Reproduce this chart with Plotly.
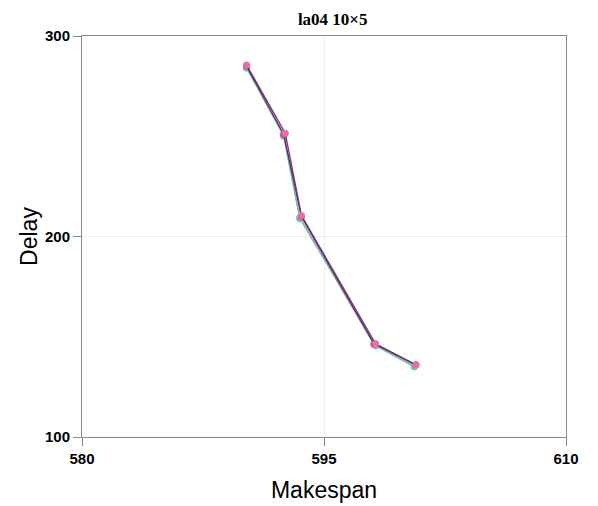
import plotly.graph_objects as go

makespan_a = [590.2, 592.5, 593.5, 598.1, 600.6]
delay_a = [284.5, 250.5, 209.5, 146.0, 135.5]
makespan_b = [590.2, 592.5, 593.5, 598.2, 600.6]
delay_b = [284.0, 250.0, 209.0, 145.5, 135.0]
makespan_c = [590.2, 592.5, 593.6, 598.1, 600.7]
delay_c = [285.0, 251.0, 210.0, 146.5, 136.0]
makespan_d = [590.2, 592.6, 593.6, 598.2, 600.7]
delay_d = [285.5, 251.5, 210.5, 146.5, 136.0]

series = [
    ("S1", makespan_a, delay_a, "#8fa8c0", "#8fa8c0"),
    ("S2", makespan_b, delay_b, "#6cc4a0", "#6cc4a0"),
    ("S3", makespan_c, delay_c, "#5b2a6e", "#d04a90"),
    ("S4", makespan_d, delay_d, "#7a3070", "#f06aa8"),
]

x_ticks = [580, 595, 610]
y_ticks = [100, 200, 300]

fig = go.Figure()
for name, xs, ys, lc, mc in series:
    fig.add_trace(go.Scatter(
        x=xs, y=ys, mode="lines+markers", name=name,
        line=dict(color=lc, width=1.3),
        marker=dict(color=mc, size=7, symbol="circle"),
    ))

axis_common = dict(
    showline=True, linecolor="#888888", linewidth=1, mirror=True,
    ticks="outside", ticklen=8, tickcolor="#888888",
    showgrid=True, gridcolor="#eeeeee", gridwidth=1, zeroline=False,
    automargin=False,
    tickfont=dict(family="Arial, Liberation Sans", size=15, color="black", weight="bold"),
)

fig.update_layout(
    width=598, height=506,
    margin=dict(l=74, r=40, t=28, b=77),
    paper_bgcolor="white", plot_bgcolor="white",
    showlegend=False,
    title=dict(text="<b>la04 10×5</b>", x=0.543, xanchor="center", y=0.979, yanchor="middle",
               font=dict(family="Liberation Serif, Times New Roman", size=17, color="black")),
    xaxis=dict(range=[580, 610], tickvals=x_ticks,
               title=dict(text="Makespan", font=dict(family="Arial, Liberation Sans", size=23, color="black"), standoff=15),
               **axis_common),
    yaxis=dict(range=[100, 300], tickvals=y_ticks,
               title=dict(text="Delay", font=dict(family="Arial, Liberation Sans", size=23, color="black"), standoff=0),
               **axis_common),
)

fig.write_html("out.html")
